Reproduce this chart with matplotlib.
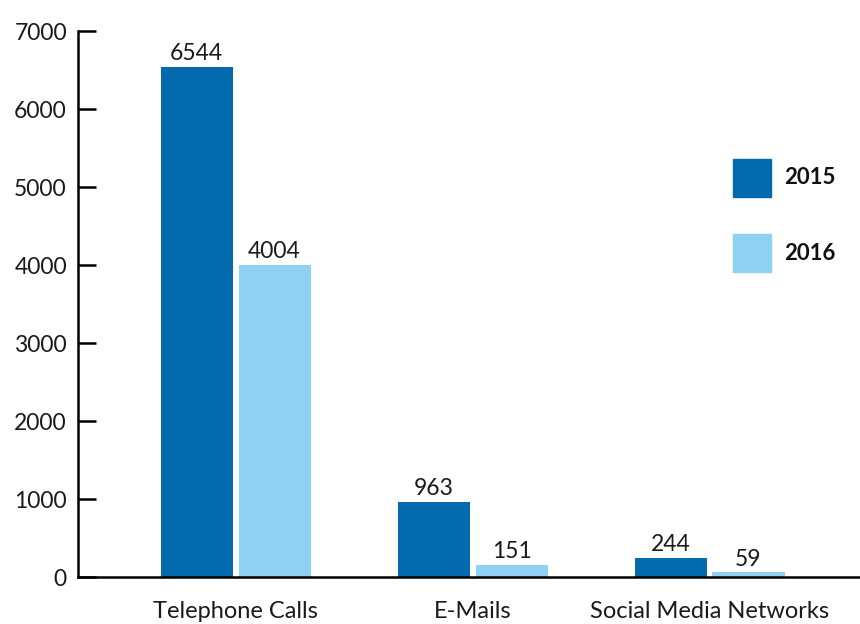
import matplotlib
matplotlib.use("Agg")
import matplotlib.pyplot as plt
from matplotlib.patches import Rectangle
import numpy as np

categories = ["Telephone Calls", "E-Mails", "Social Media Networks"]
years = ["2015", "2016"]
values_2015 = [6544, 963, 244]
values_2016 = [4004, 151, 59]

dark_blue = "#036AAD"
light_blue = "#8FD1F3"

plt.rcParams['font.family'] = ['Lato', 'DejaVu Sans']

fig = plt.figure(figsize=(8.6, 6.24), dpi=100)
ax = fig.add_axes([0.0907, 0.0753, 0.9093, 0.875])

x = np.arange(len(categories))
width = 0.304
gap = 0.025

b1 = ax.bar(x - (width + gap) / 2, values_2015, width, color=dark_blue)
b2 = ax.bar(x + (width + gap) / 2, values_2016, width, color=light_blue)

for bars in (b1, b2):
    ax.bar_label(bars, padding=2, fontsize=16.5, color='#1a1a1a')

ax.set_xlim(-0.665, 2.635)
ax.set_ylim(0, 7000)
ax.set_yticks(np.arange(0, 7001, 1000))
ax.set_xticks(x)
ax.set_xticklabels(categories)

ax.tick_params(axis='y', direction='in', length=13, width=1.8, pad=8,
               labelsize=16.5, labelcolor='#1a1a1a')
ax.tick_params(axis='x', length=0, pad=17, labelsize=17, labelcolor='#1a1a1a')

for side in ('top', 'right'):
    ax.spines[side].set_visible(False)
for side in ('left', 'bottom'):
    ax.spines[side].set_linewidth(1.8)

# legend drawn by hand: two squares with year labels
legend_y = [178, 253]
for yr, col, yc in zip(years, [dark_blue, light_blue], legend_y):
    fy = 1 - yc / 624
    fig.patches.append(Rectangle((733 / 860, fy - 19 / 624), 38 / 860, 38 / 624,
                                 transform=fig.transFigure, color=col))
    fig.text(784 / 860, fy, yr, fontsize=16, fontweight='bold',
             va='center', ha='left', color='#111111')

fig.savefig("out.png", dpi=100)
